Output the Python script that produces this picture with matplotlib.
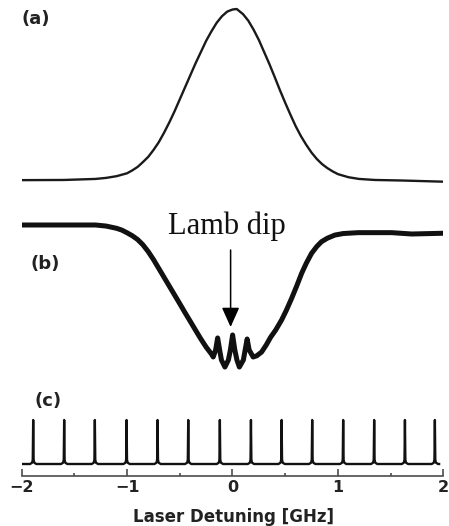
import numpy as np
import matplotlib
matplotlib.use('Agg')
import matplotlib.pyplot as plt

W, H = 449, 526  # output size in pixels

# (a) Doppler-broadened fluorescence [GHz, a.u.]
a_x = [-2.0, -1.6, -1.3, -1.2, -1.1, -1.0, -0.95, -0.9, -0.85, -0.8,
       -0.75, -0.7, -0.65, -0.6, -0.55, -0.5, -0.45, -0.4, -0.35, -0.3,
       -0.25, -0.2, -0.15, -0.1, -0.05, 0.0, 0.04, 0.1, 0.15, 0.2,
       0.25, 0.3, 0.35, 0.4, 0.45, 0.5, 0.55, 0.6, 0.65, 0.7,
       0.75, 0.8, 0.85, 0.9, 0.95, 1.0, 1.1, 1.2, 1.35, 1.6, 2.0]
a_y = [0.005, 0.006, 0.012, 0.018, 0.028, 0.045, 0.062, 0.082, 0.110, 0.140,
       0.180, 0.225, 0.280, 0.340, 0.405, 0.475, 0.545, 0.615, 0.685, 0.750,
       0.815, 0.870, 0.920, 0.958, 0.985, 0.997, 1.000, 0.970, 0.932, 0.880,
       0.820, 0.750, 0.680, 0.605, 0.528, 0.455, 0.385, 0.318, 0.260, 0.210,
       0.165, 0.128, 0.098, 0.075, 0.056, 0.040, 0.022, 0.012, 0.006, 0.003, -0.004]

# (b) saturated absorption signal with Lamb dips [GHz, a.u.]
b_x = [-2.0, -1.6, -1.3, -1.2, -1.1, -1.05, -1.0, -0.95, -0.9, -0.85,
       -0.8, -0.75, -0.7, -0.65, -0.6, -0.55, -0.5, -0.45, -0.4, -0.35,
       -0.3, -0.25, -0.2, -0.183,
       -0.160, -0.141, -0.122, -0.105, -0.072, -0.039, -0.020, 0.001, 0.022, 0.042,
       0.065, 0.103, 0.120, 0.139, 0.158,
       0.196, 0.23, 0.276, 0.32, 0.36, 0.41, 0.466, 0.51, 0.561, 0.61,
       0.656, 0.70, 0.75, 0.80, 0.845, 0.90, 0.972, 1.05, 1.193, 1.51, 1.70, 2.0]
b_y = [1.000, 1.000, 1.000, 0.993, 0.978, 0.966, 0.948, 0.928, 0.903, 0.868,
       0.823, 0.770, 0.711, 0.652, 0.593, 0.534, 0.475, 0.415, 0.357, 0.298,
       0.240, 0.186, 0.140, 0.120,
       0.167, 0.247, 0.167, 0.100, 0.053, 0.100, 0.167, 0.267, 0.167, 0.100,
       0.053, 0.100, 0.167, 0.240, 0.167,
       0.120, 0.128, 0.153, 0.200, 0.250, 0.300, 0.367, 0.430, 0.511, 0.595,
       0.678, 0.745, 0.811, 0.857, 0.889, 0.912, 0.933, 0.943, 0.949, 0.949, 0.940, 0.945]

# (c) Fabry-Perot transmission peaks [GHz]
fp_peaks = [-1.891, -1.597, -1.306, -1.005, -0.711, -0.420, -0.120,
            0.175, 0.466, 0.756, 1.050, 1.344, 1.636, 1.920]
fp_height = [1.0, 1.0, 1.0, 1.0, 1.0, 1.0, 1.0, 1.0, 1.0, 1.0, 1.0, 1.0, 1.0, 1.0]
fp_range = [-2.0, 1.96]

xtick_vals = [-2, -1, 0, 1, 2]
xtick_labels = ['\u22122', '\u22121', '0', '1', '2']
xminor_vals = [-1.5, -0.5, 0.5, 1.5]


def px_axes(fig, top, bottom, left=21.7, right=443.3):
    return fig.add_axes([left / W, 1 - bottom / H, (right - left) / W, (bottom - top) / H])


def set_ylim_px(ax, top, bottom, y0px, y1px):
    # value 0 sits at y0px, value 1 at y1px (pixels from the top)
    k = y0px - y1px
    ax.set_ylim(-(bottom - y0px) / k, 1 + (y1px - top) / k)


def bare(ax):
    for s in ax.spines.values():
        s.set_visible(False)
    ax.set_xticks([])
    ax.set_yticks([])
    ax.set_xlim(-2, 2)
    ax.patch.set_alpha(0)


fig = plt.figure(figsize=(W / 100, H / 100), dpi=100)
fig.patch.set_facecolor('white')

# panel (a)
ax_a = px_axes(fig, 0, 195)
bare(ax_a)
set_ylim_px(ax_a, 0, 195, 181, 9)
ax_a.plot(a_x, a_y, color='#1a1a1a', lw=1.7, solid_joinstyle='round')

# panel (b)
ax_b = px_axes(fig, 200, 390)
bare(ax_b)
set_ylim_px(ax_b, 200, 390, 375, 225)
ax_b.plot(b_x, b_y, color='#111111', lw=3.6, solid_joinstyle='round')
ax_b.annotate('', xy=(-0.018, (375 - 327) / 150), xytext=(-0.018, (375 - 250) / 150),
              arrowprops=dict(arrowstyle='-|>,head_length=0.4,head_width=0.18',
                              mutation_scale=30, lw=1.1, color='black',
                              shrinkA=0, shrinkB=0))

# panel (c)
cx = [fp_range[0]]
cy = [0.0]
for p, h in zip(fp_peaks, fp_height):
    cx += [p - 0.03, p - 0.01, p - 0.004, p, p + 0.004, p + 0.01, p + 0.03]
    cy += [0.0, 0.03, 0.1, h, 0.1, 0.03, 0.0]
cx.append(fp_range[1])
cy.append(0.0)

ax_c = px_axes(fig, 410, 476)
for s in ['top', 'left', 'right']:
    ax_c.spines[s].set_visible(False)
ax_c.spines['bottom'].set_color('0.3')
ax_c.spines['bottom'].set_linewidth(1.2)
ax_c.set_xlim(-2, 2)
set_ylim_px(ax_c, 410, 476, 464, 420)
ax_c.plot(cx, cy, color='#111111', lw=1.7)
ax_c.set_yticks([])
ax_c.set_xticks(xtick_vals)
ax_c.set_xticklabels(xtick_labels, fontsize=11.5, fontweight='bold', color='#222222')
ax_c.set_xticks(xminor_vals, minor=True)
ax_c.tick_params(axis='x', which='major', direction='in', length=5, width=1.2,
                 color='0.3', pad=3)
ax_c.tick_params(axis='x', which='minor', direction='in', length=2, width=1.2, color='0.3')
ax_c.patch.set_alpha(0)

fig.text(234 / W, 1 - 517 / H, 'Laser Detuning [GHz]', ha='center', va='center',
         fontsize=12, fontweight='bold', color='#222222')

# panel letters
for lbl, x, y in [('(a)', 21.7, 18.5), ('(b)', 30, 264), ('(c)', 35, 401.5)]:
    fig.text(x / W, 1 - y / H, lbl, ha='left', va='center', fontsize=13,
             fontweight='bold', color='#222222')

fig.text(227 / W, 1 - 234 / H, 'Lamb dip', ha='center', va='baseline',
         fontsize=22, family='Liberation Serif', color='#111111')

fig.savefig('out.png', dpi=100, facecolor='white')
